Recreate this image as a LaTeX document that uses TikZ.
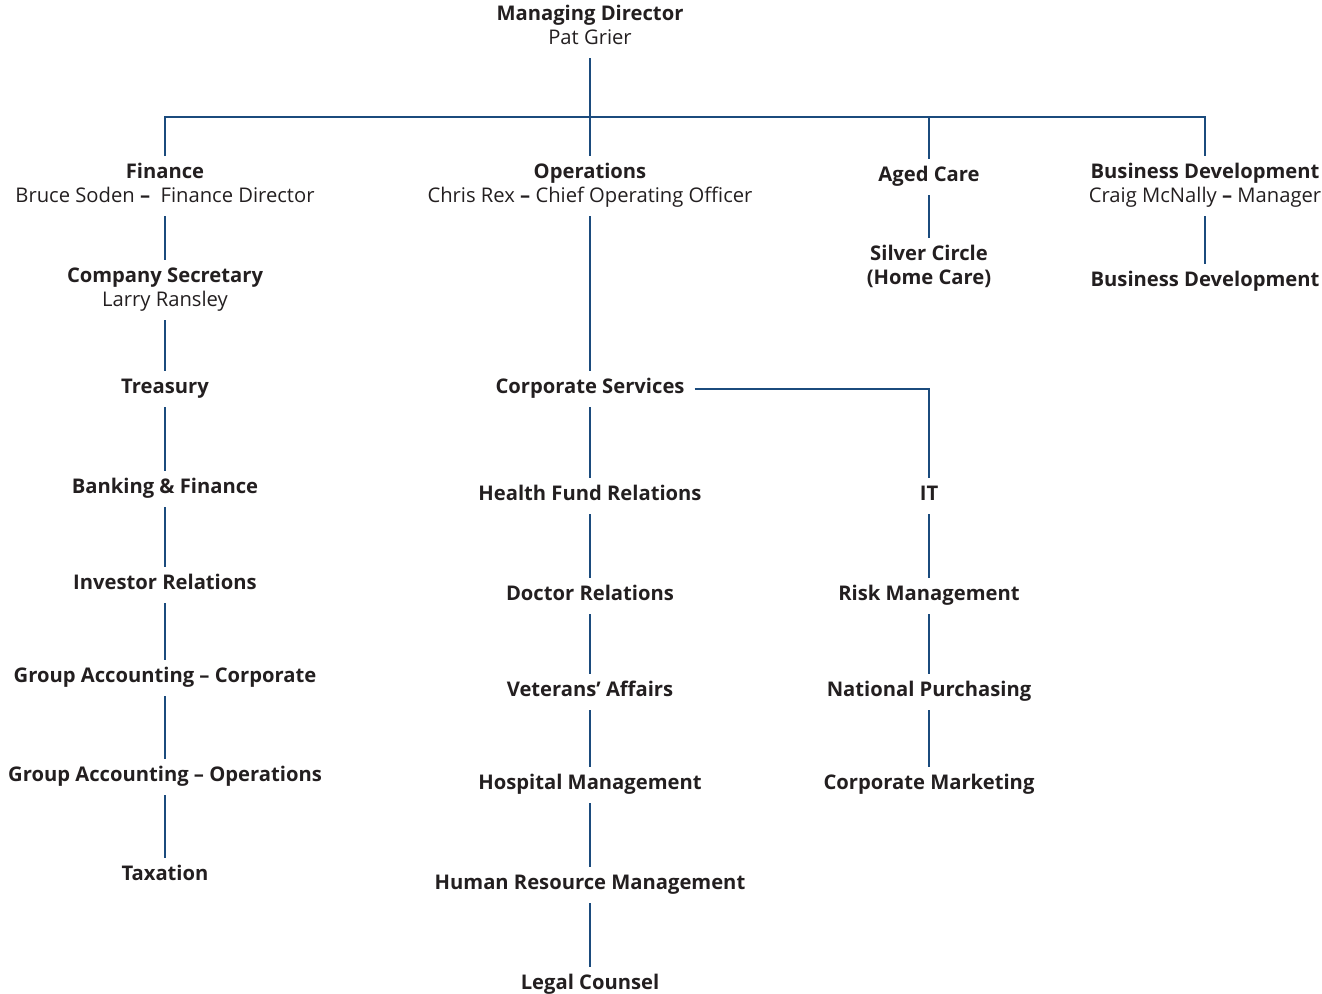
\documentclass[tikz,border=0pt]{standalone}
\usepackage{fontspec}
\setmainfont{Open Sans}
\definecolor{orgline}{HTML}{1B4B7D}
\definecolor{orgtext}{HTML}{231F20}
\begin{document}
\begin{tikzpicture}[x=1pt,y=-1pt,
    unit/.style={font=\fontsize{20.2}{24}\selectfont\bfseries, text=orgtext, align=center,
        inner xsep=4pt, inner ysep=0pt, outer sep=6pt},
    link/.style={draw=orgline, line width=1.3pt}]
            \useasboundingbox (0,0) rectangle (1322,993);

            \node[unit] (A) at (590,28) {\strut Managing Director\\\mdseries\strut Pat Grier};
            \coordinate (Z) at (590,117);
            \node[unit] (B) at (165,186) {\strut Finance\\\mdseries\strut Bruce Soden {\bfseries --}\ \ Finance Director};
            \node[unit] (C) at (590,186) {\strut Operations\\\mdseries\strut Chris Rex {\bfseries --} Chief Operating Officer};
            \node[unit] (D) at (929,177) {\strut Aged Care};
            \node[unit] (E) at (1205,186) {\strut Business Development\\\mdseries\strut Craig McNally {\bfseries --} Manager};
            \draw[link] (A) -- (C);
            \draw[link] (B) |- (Z) -| (E);
            \draw[link] (Z) -| (D);

            \node[unit] (F) at (165,290) {\strut Company Secretary\\\mdseries\strut Larry Ransley};
            \node[unit] (G) at (165,389) {\strut Treasury};
            \node[unit] (H) at (165,489) {\strut Banking \& Finance};
            \node[unit] (I) at (165,585) {\strut Investor Relations};
            \node[unit] (J) at (165,678) {\strut Group Accounting -- Corporate};
            \node[unit] (K) at (165,777) {\strut Group Accounting -- Operations};
            \node[unit] (L) at (165,876) {\strut Taxation};
            \draw[link] (B) -- (F);
            \draw[link] (F) -- (G);
            \draw[link] (G) -- (H);
            \draw[link] (H) -- (I);
            \draw[link] (I) -- (J);
            \draw[link] (J) -- (K);
            \draw[link] (K) -- (L);

            \node[unit] (M) at (590,389) {\strut Corporate Services};
            \node[unit] (N) at (590,496) {\strut Health Fund Relations};
            \node[unit] (O) at (590,596) {\strut Doctor Relations};
            \node[unit] (P) at (590,692) {\strut Veterans’ Affairs};
            \node[unit] (Q) at (590,785) {\strut Hospital Management};
            \node[unit] (R) at (590,885) {\strut Human Resource Management};
            \node[unit] (S) at (590,985) {\strut Legal Counsel};
            \draw[link] (C) -- (M);
            \draw[link] (M) -- (N);
            \draw[link] (N) -- (O);
            \draw[link] (O) -- (P);
            \draw[link] (P) -- (Q);
            \draw[link] (Q) -- (R);
            \draw[link] (R) -- (S);

            \node[unit] (T) at (929,496) {\strut IT};
            \node[unit] (U) at (929,596) {\strut Risk Management};
            \node[unit] (V) at (929,692) {\strut National Purchasing};
            \node[unit] (W) at (929,785) {\strut Corporate Marketing};
            \draw[link] (M) -| (T);
            \draw[link] (T) -- (U);
            \draw[link] (U) -- (V);
            \draw[link] (V) -- (W);

            \node[unit] (X) at (929,268) {\strut Silver Circle\\\strut (Home Care)};
            \node[unit] (Y) at (1205,282) {\strut Business Development};
            \draw[link] (D) -- (X);
            \draw[link] (E) -- (Y);
\end{tikzpicture}
\end{document}
